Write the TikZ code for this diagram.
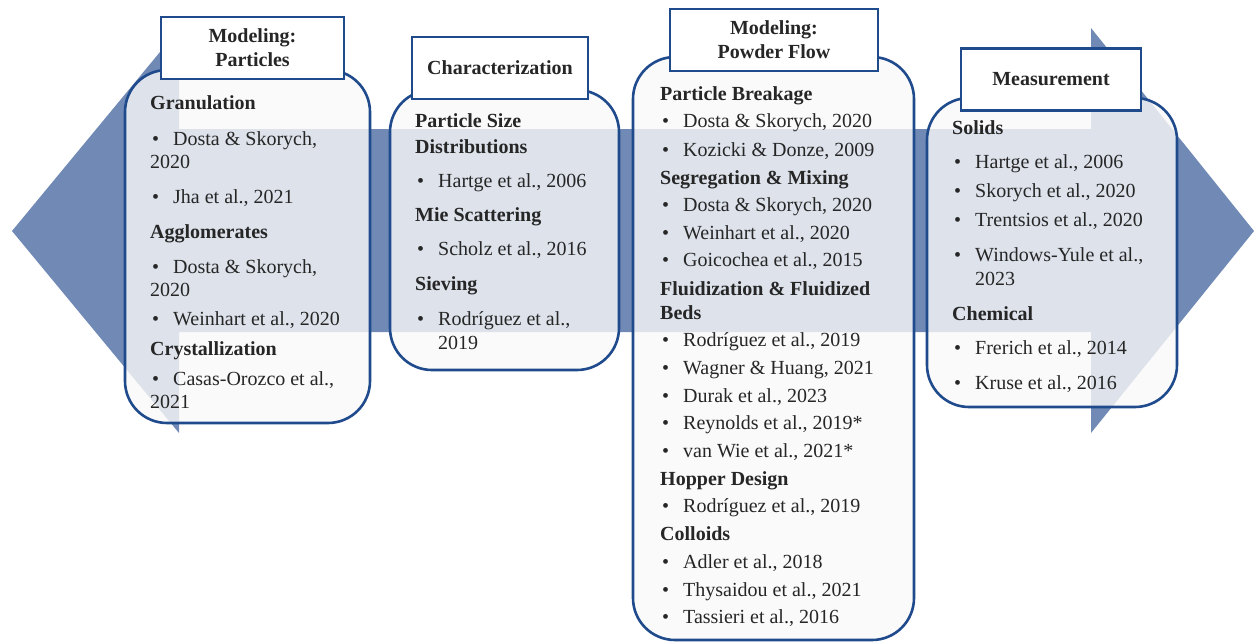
\documentclass[tikz,border=0pt]{standalone}
\usepackage{fontspec}
\setmainfont{Liberation Serif}
\definecolor{arrowblue}{RGB}{112,137,181}
\definecolor{frameblue}{RGB}{31,74,140}
\definecolor{textgray}{RGB}{38,38,38}
\newcommand{\boxfont}{\fontsize{20pt}{24pt}\selectfont}
\tikzset{
  panel/.style={draw=frameblue, line width=2.6pt, rounded corners=42pt,
    fill=white!97.5!black, fill opacity=0.8},
  tag/.style={draw=frameblue, line width=2.6pt, fill=white, inner sep=0pt,
    align=center, font=\boxfont\bfseries, minimum height=62pt},
  topic/.style={anchor=base west, inner sep=0pt, font=\boxfont\bfseries},
  entry/.style={anchor=base west, inner sep=0pt, xshift=2pt,
    execute at begin node={\makebox[21pt][l]{\textbullet}}},
  tail/.style={anchor=base west, inner sep=0pt},
  tailin/.style={anchor=base west, inner sep=0pt, xshift=23pt}
}
\begin{document}
\begin{tikzpicture}[x=1pt, y=-1pt, font=\boxfont, text=textgray]
    \useasboundingbox (0,0) rectangle (1254,642);
    % double arrow behind the panels
    \fill[arrowblue] (12,231) -- (179,29) -- (179,129) -- (1091,129) -- (1091,28)
      -- (1254,231) -- (1091,433) -- (1091,332) -- (179,332) -- (179,433) -- cycle;
    % panels
    \draw[panel] (125,70) rectangle (370,423);
    \draw[panel] (390,90) rectangle (619,370);
    \draw[panel] (633,57) rectangle (914,640);
    \draw[panel] (927,98) rectangle (1177,407);
    % titles
    \node[tag, minimum width=183pt] (plab) at (252.5,48) {Modeling:\\Particles};
    \node[tag, minimum width=176pt] (clab) at (500,68) {Characterization};
    \node[tag, minimum width=208pt] (flab) at (774,40) {Modeling:\\Powder Flow};
    \node[tag, minimum width=180pt] (mlab) at (1051,79.5) {Measurement};
    % particles
    \foreach \k/\y/\t [count=\i] in {topic/110/Granulation, entry/145/{Dosta \& Skorych,},
        tail/168/2020, entry/203/{Jha et al., 2021}, topic/238/Agglomerates,
        entry/273/{Dosta \& Skorych,}, tail/296/2020, entry/325/{Weinhart et al., 2020},
        topic/355/Crystallization, entry/385/{Casas-Orozco et al.,}, tail/408/2021}
      \node[\k] (pa\i) at (150,\y) {\t};
    % characterization
    \foreach \k/\y/\t [count=\i] in {topic/128/Particle Size, topic/153/Distributions,
        entry/187/{Hartge et al., 2006}, topic/221/Mie Scattering,
        entry/255/{Scholz et al., 2016}, topic/290/Sieving,
        entry/325/{Rodríguez et al.,}, tailin/349/2019}
      \node[\k] (ch\i) at (415,\y) {\t};
    % powder flow
    \foreach \k/\y/\t [count=\i] in {topic/101/Particle Breakage,
        entry/128/{Dosta \& Skorych, 2020}, entry/156/{Kozicki \& Donze, 2009},
        topic/184/Segregation \& Mixing, entry/211/{Dosta \& Skorych, 2020},
        entry/239/{Weinhart et al., 2020}, entry/266/{Goicochea et al., 2015},
        topic/295/Fluidization \& Fluidized, topic/319/Beds,
        entry/346/{Rodríguez et al., 2019}, entry/374/{Wagner \& Huang, 2021},
        entry/402/{Durak et al., 2023}, entry/429/{Reynolds et al., 2019*},
        entry/457/{van Wie et al., 2021*}, topic/485/Hopper Design,
        entry/512/{Rodríguez et al., 2019}, topic/540/Colloids,
        entry/568/{Adler et al., 2018}, entry/596/{Thysaidou et al., 2021},
        entry/623/{Tassieri et al., 2016}}
      \node[\k] (pf\i) at (660,\y) {\t};
    % measurement
    \foreach \k/\y/\t [count=\i] in {topic/134/Solids, entry/168/{Hartge et al., 2006},
        entry/197/{Skorych et al., 2020}, entry/226/{Trentsios et al., 2020},
        entry/261/{Windows-Yule et al.,}, tailin/285/2023, topic/320/Chemical,
        entry/354/{Frerich et al., 2014}, entry/389/{Kruse et al., 2016}}
      \node[\k] (me\i) at (952,\y) {\t};
\end{tikzpicture}
\end{document}
